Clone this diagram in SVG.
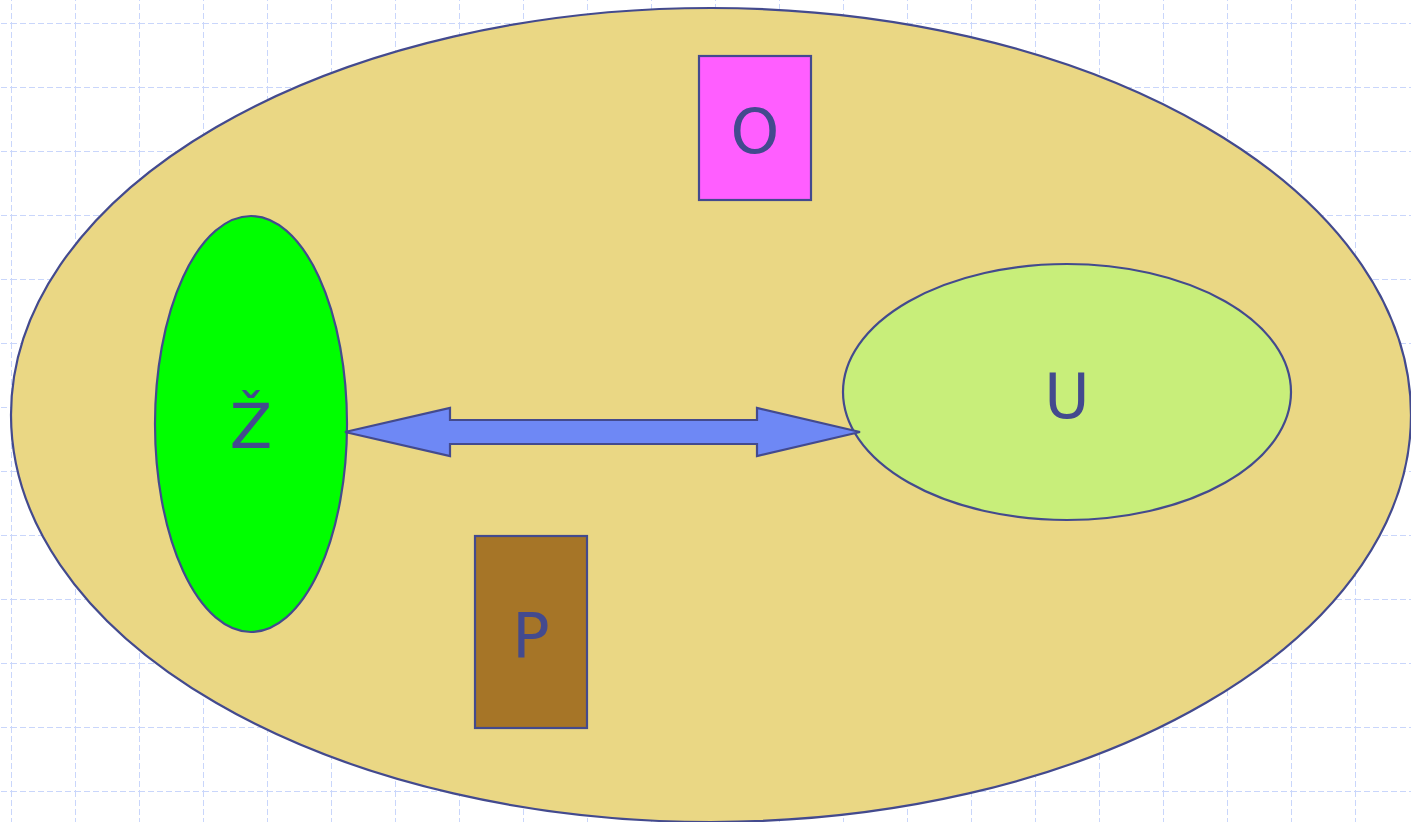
<svg xmlns="http://www.w3.org/2000/svg" width="1411" height="822" viewBox="0 0 1411 822">
<defs>
<pattern id="grid" x="11" y="23" width="64" height="64" patternUnits="userSpaceOnUse">
<path d="M0 0H64M0 0V64" fill="none" stroke="#c9d6fb" stroke-width="2" stroke-dasharray="6 3"/>
</pattern>
</defs>
<style>
.shape{stroke:#434a8e;stroke-width:2.2}
.lbl{font-family:"DejaVu Sans",sans-serif;font-size:62px;fill:#434a8e;text-anchor:middle}
</style>
<rect width="1411" height="822" fill="#ffffff"/>
<rect width="1411" height="822" fill="url(#grid)"/>
<g id="system">
<ellipse class="shape" cx="711" cy="415" rx="700" ry="407" fill="#ead784"/>
</g>
<g id="node-O">
<rect class="shape" x="699" y="56" width="112" height="144" fill="#ff5eff"/>
<text class="lbl" x="755" y="153">O</text>
</g>
<g id="node-Z">
<ellipse class="shape" cx="251" cy="424" rx="96" ry="208" fill="#00ff00"/>
<text class="lbl" x="251" y="448">Ž</text>
</g>
<g id="node-U">
<ellipse class="shape" cx="1067" cy="392" rx="224" ry="128" fill="#c8ee7a"/>
<text class="lbl" x="1067" y="418">U</text>
</g>
<g id="node-P">
<rect class="shape" x="475" y="536" width="112" height="192" fill="#a67527"/>
<text class="lbl" x="531" y="657">P</text>
</g>
<g id="connectors">
<path class="shape" d="M345 432L450 408V420H757V408L860 432L757 456V444H450V456Z" fill="#6e88f5" stroke-linejoin="miter"/>
</g>
</svg>
